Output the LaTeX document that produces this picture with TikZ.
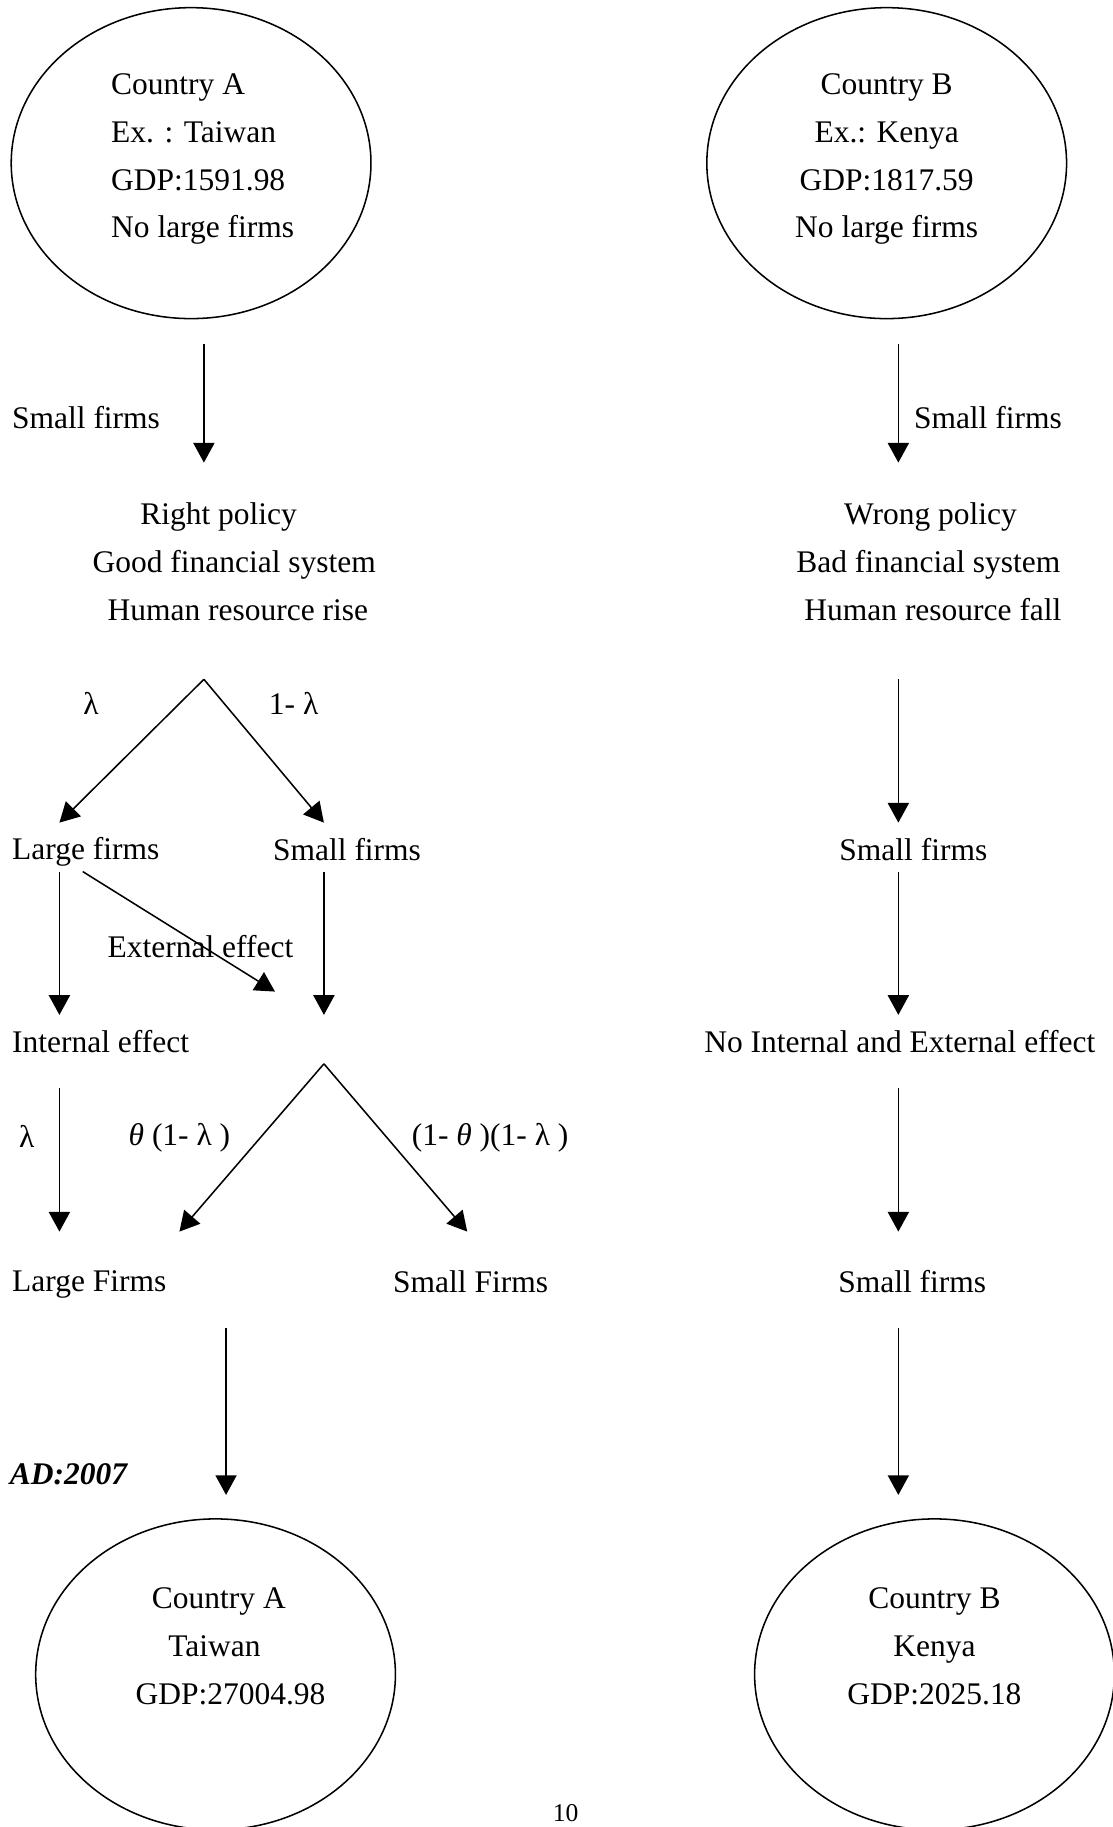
\documentclass[tikz,border=0pt]{standalone}
\usepackage{fontspec}
\setmainfont{Liberation Serif}
\usetikzlibrary{arrows.meta,shapes.geometric}

\begin{document}
\begin{tikzpicture}[
    every node/.style={font=\fontsize{12.3}{18.7}\selectfont, inner sep=0pt},
    texte/.style={anchor=west, align=left},
    pays/.style={draw, ellipse, line width=0.6pt, minimum width=4.94cm, minimum height=4.27cm},
    fleche/.style={-{Triangle[length=0.27cm,width=0.29cm]}, line width=0.6pt}
]
    \useasboundingbox (0,0) rectangle (15.28,-25.088);

    % Pays au départ
    \node[pays] (paysA) at (2.624,-2.24) {};
    \node[pays] (paysB) at (12.176,-2.24) {};
    \node[texte] (infoA) at (1.52,-2.184) {Country A\\Ex. : Taiwan\\GDP:1591.98\\No large firms};
    \node[align=center] (infoB) at (12.176,-2.184) {Country B\\Ex.: Kenya\\GDP:1817.59\\No large firms};

    % Pays en 2007
    \node[pays] (finA) at (2.96,-22.992) {};
    \node[pays] (finB) at (12.832,-22.992) {};
    \node[texte] (resA) at (1.856,-22.608) {\hspace*{0.224cm}Country A\\\hspace*{0.448cm}Taiwan\\GDP:27004.98};
    \node[align=center] (resB) at (12.832,-22.608) {Country B\\Kenya\\GDP:2025.18};

    % Textes colonne A
    \node[texte] (petitA) at (0.16,-5.728) {Small firms};
    \node[texte] (politA) at (1.264,-7.712) {\hspace*{0.656cm}Right policy\\Good financial system\\\hspace*{0.208cm}Human resource rise};
    \node (lamA) at (1.248,-9.664) {λ};
    \node (unlamA) at (4.032,-9.664) {1- λ};
    \node[texte] (grandA) at (0.16,-11.7) {Large firms};
    \node[texte] (petitA2) at (3.744,-11.664) {Small firms};
    \node[texte] (externe) at (1.472,-12.992) {External effect};
    \node[texte] (interne) at (0.16,-14.304) {Internal effect};
    \node (lamC) at (0.368,-15.6) {λ};
    \node[texte] (thetaA) at (1.76,-15.63) {{\itshape θ} (1- λ )};
    \node[texte] (thetaB) at (5.648,-15.63) {(1- {\itshape θ} )(1- λ )};
    \node[texte] (grandF) at (0.16,-17.64) {Large Firms};
    \node[texte] (petitF) at (5.392,-17.6) {Small Firms};
    \node[texte] (annee) at (0.128,-20.24) {\textbf{\textit{AD:2007}}};

    % Textes colonne B
    \node[texte] (petitB) at (12.544,-5.728) {Small firms};
    \node[texte] (politB) at (10.928,-7.712) {\hspace*{0.656cm}Wrong policy\\Bad financial system\\\hspace*{0.112cm}Human resource fall};
    \node[texte] (petitB2) at (11.52,-11.664) {Small firms};
    \node[texte] (aucun) at (9.664,-14.304) {No Internal and External effect};
    \node[texte] (petitB3) at (11.504,-17.6) {Small firms};

    % Numéro de page
    \node[font=\fontsize{10}{12}\selectfont] (page) at (7.768,-24.9) {10};

    % Extrémités des flèches, colonne A
    \coordinate (a1) at (2.8,-4.72);
    \coordinate (a2) at (2.8,-6.352);
    \coordinate (sA) at (2.8,-9.328);
    \coordinate (gA) at (0.816,-11.296);
    \coordinate (dA) at (4.448,-11.296);
    \coordinate (l1) at (0.816,-11.968);
    \coordinate (l2) at (0.816,-13.936);
    \coordinate (s1) at (4.448,-11.968);
    \coordinate (s2) at (4.448,-13.936);
    \coordinate (e1) at (1.136,-11.968);
    \coordinate (e2) at (3.776,-13.616);
    \coordinate (sB) at (4.448,-14.608);
    \coordinate (gB) at (2.464,-16.912);
    \coordinate (dB) at (6.416,-16.912);
    \coordinate (i1) at (0.816,-14.944);
    \coordinate (i2) at (0.816,-16.912);
    \coordinate (f1) at (3.104,-18.24);
    \coordinate (f2) at (3.104,-20.528);

    % Flèches colonne A
    \draw[fleche] (a1) -- (a2);
    \draw[fleche] (sA) -- (gA);
    \draw[fleche] (sA) -- (dA);
    \draw[fleche] (l1) -- (l2);
    \draw[fleche] (s1) -- (s2);
    \draw[fleche] (e1) -- (e2);
    \draw[fleche] (sB) -- (gB);
    \draw[fleche] (sB) -- (dB);
    \draw[fleche] (i1) -- (i2);
    \draw[fleche] (f1) -- (f2);

    % Flèches colonne B
    \foreach \i/\ya/\yb in {1/-4.72/-6.352, 2/-9.328/-11.296, 3/-11.968/-13.936, 4/-14.944/-16.912, 5/-18.24/-20.528} {
        \coordinate (hB\i) at (12.336,\ya);
        \coordinate (bB\i) at (12.336,\yb);
        \draw[fleche] (hB\i) -- (bB\i);
    }

\end{tikzpicture}
\end{document}
